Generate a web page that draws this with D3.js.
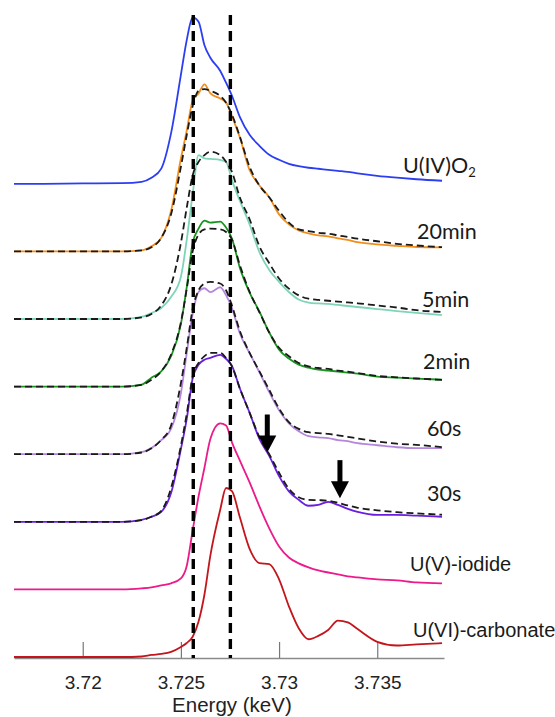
<!DOCTYPE html>
<html>
<head>
<meta charset="utf-8">
<script src="https://cdn.jsdelivr.net/npm/d3@7/dist/d3.min.js"></script>
<style>
  html, body { margin: 0; padding: 0; background: #fff; }
  svg { display: block; }
</style>
</head>
<body>
<svg id="chart" width="555" height="717"></svg>
<script>
// ---------------- DATA ----------------
const energy = [3.7165, 3.718, 3.720, 3.722, 3.723, 3.7235, 3.724, 3.7245, 3.725, 3.7253,
  3.7256, 3.7259, 3.7262, 3.7265, 3.727, 3.7273, 3.7276, 3.728, 3.7285, 3.729,
  3.7295, 3.730, 3.7305, 3.731, 3.7315, 3.732, 3.7325, 3.733, 3.7335, 3.734,
  3.735, 3.736, 3.737, 3.7383];

const uo2 = [0, 0, 0.002, 0.004, 0.012, 0.036, 0.09, 0.30, 0.645, 0.852,
  0.985, 0.959, 0.82, 0.746, 0.669, 0.598, 0.521, 0.396, 0.29, 0.225,
  0.172, 0.142, 0.118, 0.104, 0.095, 0.089, 0.083, 0.077, 0.071, 0.062,
  0.047, 0.036, 0.027, 0.018];

const min20 = [0, 0, 0, 0, 0.006, 0.03, 0.08, 0.24, 0.55, 0.716,
  0.893, 0.935, 0.988, 0.935, 0.905, 0.882, 0.799, 0.675, 0.48, 0.39,
  0.32, 0.219, 0.16, 0.124, 0.107, 0.095, 0.089, 0.077, 0.068, 0.055,
  0.041, 0.033, 0.026, 0.024];
const fit20 = [0, 0, 0, 0, 0.006, 0.024, 0.08, 0.22, 0.5, 0.69,
  0.86, 0.95, 0.96, 0.95, 0.92, 0.88, 0.81, 0.68, 0.5, 0.39,
  0.32, 0.24, 0.17, 0.13, 0.12, 0.11, 0.105, 0.095, 0.085, 0.075,
  0.06, 0.045, 0.035, 0.025];

const min5 = [0, 0, 0, 0, 0.012, 0.035, 0.065, 0.13, 0.25, 0.47,
  0.74, 0.97, 0.95, 0.947, 0.941, 0.929, 0.822, 0.70, 0.56, 0.395,
  0.29, 0.22, 0.16, 0.115, 0.097, 0.092, 0.089, 0.083, 0.077, 0.071,
  0.059, 0.047, 0.036, 0.024];
const fit5 = [0, 0, 0, 0, 0.01, 0.03, 0.08, 0.2, 0.45, 0.66,
  0.85, 0.93, 0.97, 0.99, 0.97, 0.93, 0.87, 0.72, 0.59, 0.43,
  0.33, 0.24, 0.18, 0.14, 0.12, 0.113, 0.108, 0.103, 0.098, 0.093,
  0.08, 0.068, 0.052, 0.042];

const min2 = [0, 0, 0, 0, 0.012, 0.053, 0.09, 0.18, 0.37, 0.59,
  0.85, 0.935, 0.982, 0.97, 0.976, 0.941, 0.876, 0.704, 0.556, 0.444,
  0.32, 0.219, 0.166, 0.13, 0.112, 0.1, 0.095, 0.089, 0.083, 0.077,
  0.059, 0.053, 0.047, 0.041];
const fit2 = [0, 0, 0, 0, 0.01, 0.04, 0.09, 0.19, 0.38, 0.58,
  0.8, 0.9, 0.93, 0.935, 0.93, 0.915, 0.87, 0.72, 0.56, 0.44,
  0.32, 0.23, 0.18, 0.14, 0.12, 0.11, 0.105, 0.095, 0.088, 0.08,
  0.063, 0.055, 0.048, 0.04];

const sec60 = [0, 0, 0, 0, 0.012, 0.036, 0.083, 0.15, 0.36, 0.6,
  0.83, 0.96, 0.982, 0.959, 0.988, 0.941, 0.864, 0.716, 0.598, 0.485,
  0.367, 0.26, 0.183, 0.136, 0.107, 0.1, 0.095, 0.083, 0.077, 0.065,
  0.053, 0.041, 0.036, 0.036];
const fit60 = [0, 0, 0, 0, 0.01, 0.035, 0.085, 0.17, 0.42, 0.63,
  0.86, 0.97, 1.01, 1.02, 1.01, 0.97, 0.88, 0.73, 0.6, 0.49,
  0.38, 0.27, 0.19, 0.15, 0.13, 0.125, 0.12, 0.112, 0.103, 0.093,
  0.075, 0.062, 0.055, 0.042];

const sec30 = [0, 0, 0, 0, 0.012, 0.03, 0.059, 0.17, 0.43, 0.61,
  0.85, 0.929, 0.959, 0.97, 0.988, 0.964, 0.923, 0.79, 0.645, 0.49,
  0.39, 0.27, 0.18, 0.13, 0.095, 0.1, 0.118, 0.1, 0.077, 0.059,
  0.041, 0.041, 0.036, 0.03];
const fit30 = [0, 0, 0, 0, 0.01, 0.03, 0.065, 0.2, 0.45, 0.64,
  0.86, 0.94, 0.98, 1.0, 1.0, 0.97, 0.92, 0.79, 0.645, 0.5,
  0.4, 0.29, 0.195, 0.145, 0.13, 0.128, 0.125, 0.112, 0.097, 0.083,
  0.068, 0.057, 0.05, 0.042];

const iodide = [0, 0, 0, 0, 0.006, 0.012, 0.024, 0.036, 0.065, 0.14,
  0.35, 0.55, 0.72, 0.89, 0.982, 0.97, 0.87, 0.763, 0.633, 0.491,
  0.361, 0.254, 0.189, 0.154, 0.13, 0.112, 0.1, 0.089, 0.077, 0.071,
  0.059, 0.053, 0.041, 0.036];

const carbonate = [0, 0, 0, 0, 0.003, 0.012, 0.018, 0.03, 0.059, 0.083,
  0.12, 0.21, 0.37, 0.6, 0.87, 1.0, 0.982, 0.828, 0.64, 0.556,
  0.55, 0.46, 0.30, 0.17, 0.105, 0.125, 0.16, 0.215, 0.205, 0.165,
  0.09, 0.068, 0.075, 0.082];

const seriesNames = ["U(IV)O2", "20min", "5min", "2min", "60s", "30s", "U(V)-iodide", "U(VI)-carbonate"];
const offsets = [2.8, 2.4, 2.0, 1.6, 1.2, 0.8, 0.4, 0];
const colors = ["#2b3ef2", "#f28e1c", "#7fd4b8", "#17951f", "#b486dc", "#6a1ee0", "#ec1a8a", "#c3161c"];

const xTicks = [3.72, 3.725, 3.73, 3.735];
const xTickLabels = ["3.72", "3.725", "3.73", "3.735"];
const refLines = [3.72563, 3.72752];
const arrowE = [3.7294, 3.7331];
const arrowY = [1.21, 0.94];

// ---------------- BUILD ----------------
const spectra = [uo2, min20, min5, min2, sec60, sec30, iodide, carbonate];
const fits = [null, fit20, fit5, fit2, fit60, fit30, null, null];

const svg = d3.select("#chart");
const x = d3.scaleLinear().domain([3.7165, 3.7384]).range([14, 444]);
const y = d3.scaleLinear().domain([0, 3.85]).range([657, 6.35]);

const line = d3.line()
  .x(d => x(d[0]))
  .y(d => y(d[1]))
  .curve(d3.curveMonotoneX);

// axis
const axisG = svg.append("g").attr("transform", "translate(0,658)")
  .call(d3.axisBottom(x).tickValues(xTicks)
    .tickFormat((d, i) => xTickLabels[i])
    .tickSizeInner(-16).tickSizeOuter(0));
axisG.select(".domain").attr("stroke", "#8a8a8a").attr("stroke-width", 1.6);
axisG.selectAll(".tick line").attr("stroke", "#777").attr("stroke-width", 1.2);
axisG.selectAll(".tick text")
  .attr("y", 31).attr("dy", 0)
  .attr("fill", "#222")
  .style("font-family", "'Liberation Sans', Arial, sans-serif")
  .style("font-size", "19px");

svg.append("text")
  .attr("x", x(3.7276)).attr("y", 712)
  .attr("text-anchor", "middle")
  .attr("fill", "#222")
  .style("font-family", "'Liberation Sans', Arial, sans-serif")
  .style("font-size", "20.5px")
  .text("Energy (keV)");

// spectra
spectra.forEach((s, i) => {
  const pts = energy.map((e, j) => [e, s[j] + offsets[i]]);
  svg.append("path")
    .attr("d", line(pts))
    .attr("fill", "none")
    .attr("stroke", colors[i])
    .attr("stroke-width", 1.8)
    .attr("stroke-linejoin", "round");
});

// fits
fits.forEach((f, i) => {
  if (!f) return;
  const pts = energy.map((e, j) => [e, f[j] + offsets[i]]);
  svg.append("path")
    .attr("d", line(pts))
    .attr("fill", "none")
    .attr("stroke", "#1a1a1a")
    .attr("stroke-width", 1.8)
    .attr("stroke-dasharray", "7,4");
});

// reference dashed lines
refLines.forEach(e => {
  svg.append("line")
    .attr("x1", x(e)).attr("x2", x(e))
    .attr("y1", 15).attr("y2", 658)
    .attr("stroke", "#000")
    .attr("stroke-width", 3.4)
    .attr("stroke-dasharray", "10,6");
});

// arrows
arrowE.forEach((e, i) => {
  const ax = x(e), ay = y(arrowY[i]);
  const g = svg.append("g");
  g.append("rect").attr("x", ax - 2.5).attr("y", ay - 38).attr("width", 5).attr("height", 24).attr("fill", "#000");
  g.append("path")
    .attr("d", `M${ax - 9},${ay - 17} L${ax + 9},${ay - 17} L${ax},${ay} Z`)
    .attr("fill", "#000");
});

// labels
const labelLayout = [
  { x: 403, y: 173, font: "Lato", size: 21.5 },
  { x: 417, y: 239, font: "Lato", size: 21.5 },
  { x: 422, y: 307, font: "Lato", size: 21.5 },
  { x: 423, y: 369, font: "Lato", size: 21.5 },
  { x: 427, y: 436, font: "Lato", size: 21.5 },
  { x: 427, y: 501, font: "Lato", size: 21.5 },
  { x: 410, y: 571, font: "'Liberation Sans', Arial", size: 20 },
  { x: 413, y: 637, font: "'Liberation Sans', Arial", size: 20 }
];
seriesNames.forEach((name, i) => {
  const L = labelLayout[i];
  const t = svg.append("text")
    .attr("x", L.x).attr("y", L.y)
    .attr("fill", "#1a1a1a")
    .style("font-family", L.font + ", sans-serif")
    .style("font-size", L.size + "px");
  if (name === "U(IV)O2") {
    t.append("tspan").text("U(IV)O");
    t.append("tspan").attr("dy", 4).style("font-size", "13px").text("2");
  } else {
    t.text(name);
  }
});
</script>
</body>
</html>
